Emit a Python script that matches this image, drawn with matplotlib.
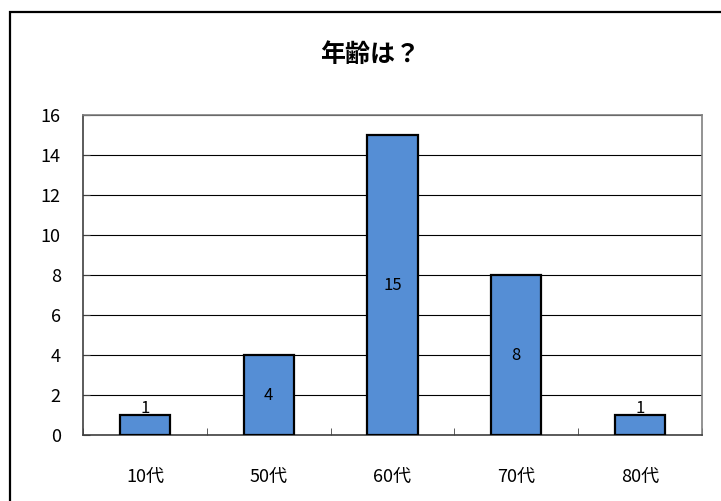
import matplotlib

matplotlib.use("Agg")
import matplotlib.pyplot as plt
from matplotlib.patches import Rectangle

plt.rcParams["font.family"] = ["Noto Sans CJK JP", "DejaVu Sans"]

# data
categories = ["10代", "50代", "60代", "70代", "80代"]
counts = [1, 4, 15, 8, 1]
y_ticks = [0, 2, 4, 6, 8, 10, 12, 14, 16]
title = "年齢は？"

fig = plt.figure(figsize=(7.21, 5.01), dpi=100)
fig.patch.set_facecolor("white")

# outer chart-area border (right/bottom run off the image)
fig.patches.append(Rectangle((10 / 721, -0.05), 1.2, 1 - 12 / 501 + 0.05,
                             transform=fig.transFigure, fill=False,
                             edgecolor="black", linewidth=1.6))

ax = fig.add_axes([83 / 721, 1 - 435 / 501, (702 - 83) / 721, (435 - 115) / 501])

x = range(len(categories))
ax.bar(x, counts, width=0.405, color="#558ED5", edgecolor="black", linewidth=1.6, zorder=3)

for xi, v in zip(x, counts):
    if v < 2:
        ax.text(xi, v - 0.1, str(v), ha="center", va="bottom", fontsize=12, zorder=4)
    else:
        ax.text(xi, v / 2, str(v), ha="center", va="center", fontsize=12, zorder=4)

ax.set_xlim(-0.5, len(categories) - 0.5)
ax.set_ylim(0, 16)
ax.set_yticks(y_ticks)
ax.set_yticklabels([str(t) for t in y_ticks], fontsize=13)
ax.yaxis.grid(True, color="black", linewidth=0.8, zorder=0)
ax.tick_params(axis="y", direction="in", length=5, pad=16, color="#404040")

# category labels centered, ticks on boundaries
ax.set_xticks(list(x))
ax.set_xticklabels(categories, fontsize=13)
ax.set_xticks([i + 0.5 for i in range(len(categories) - 1)] + [-0.5, len(categories) - 0.5], minor=True)
ax.tick_params(axis="x", which="major", length=0, pad=24)
ax.tick_params(axis="x", which="minor", direction="in", length=5, color="#404040")

for side in ("top", "right"):
    ax.spines[side].set_color("#808080")
    ax.spines[side].set_linewidth(1.2)
for side in ("left", "bottom"):
    ax.spines[side].set_color("#404040")
    ax.spines[side].set_linewidth(1.2)

fig.text(370 / 721, 1 - 55 / 501, title, ha="center", va="center",
         fontsize=18, fontweight="bold")

fig.savefig("out.png", dpi=100)
